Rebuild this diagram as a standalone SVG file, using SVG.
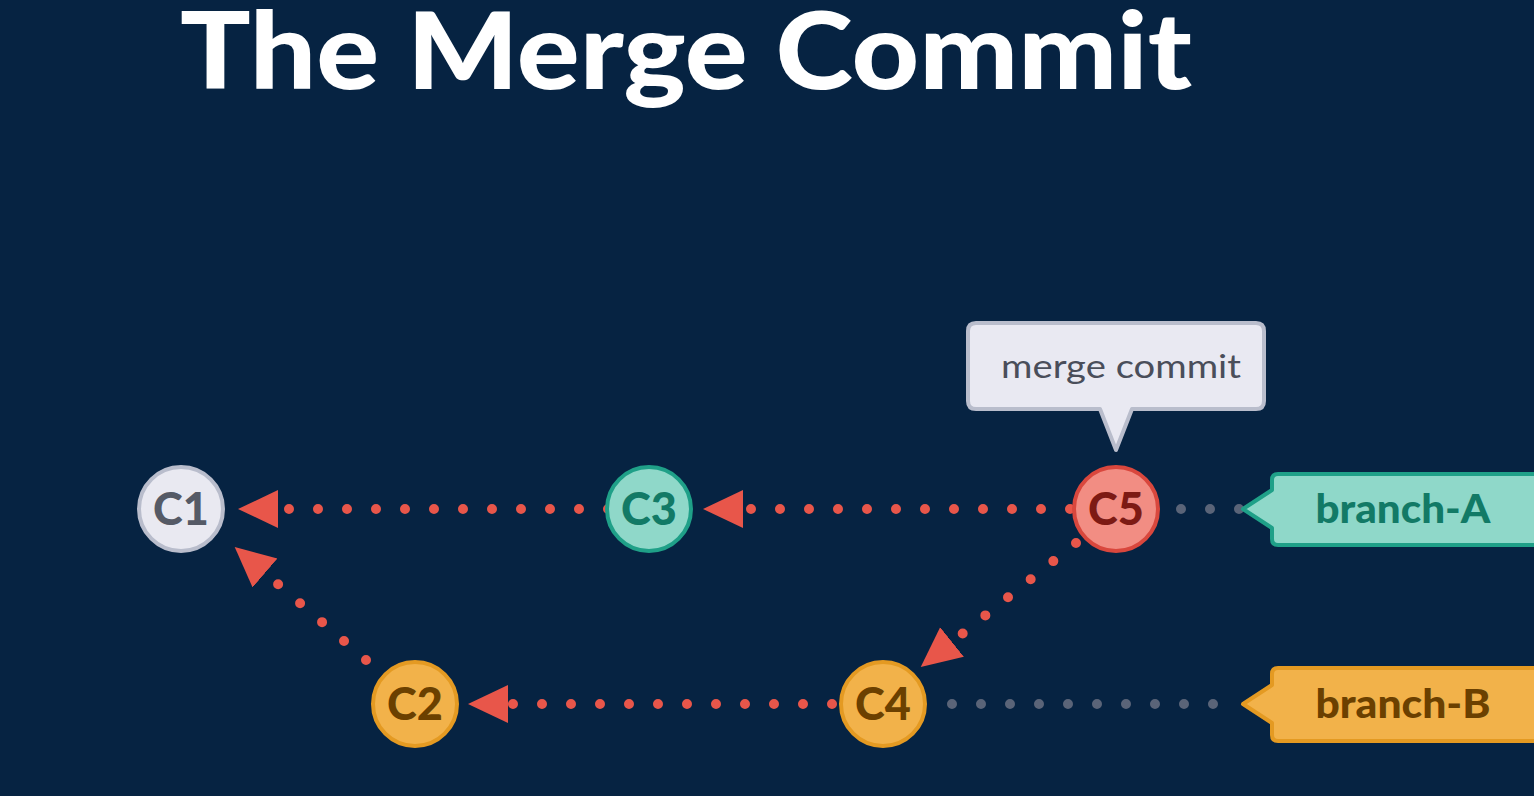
<svg xmlns="http://www.w3.org/2000/svg" width="1534" height="796" viewBox="0 0 1534 796">
<defs>
<style>
.title{font-family:Lato,"Open Sans","Liberation Sans",sans-serif;font-weight:900;font-size:106px;fill:#ffffff}
.ct{font-family:Lato,"Open Sans","Liberation Sans",sans-serif;font-weight:900;font-size:45px;text-anchor:middle}
.bt{font-family:Lato,"Open Sans","Liberation Sans",sans-serif;font-weight:900;font-size:40px;text-anchor:middle}
.mt{font-family:Lato,"Open Sans","Liberation Sans",sans-serif;font-weight:400;font-size:32px;fill:#4a4e5a}
.red{stroke:#e8564a;stroke-width:10;stroke-linecap:round;stroke-dasharray:0 29;fill:none}
.gray{stroke:#5a6478;stroke-width:10;stroke-linecap:round;stroke-dasharray:0 29;fill:none}
</style>
<marker id="ah" markerUnits="userSpaceOnUse" markerWidth="42" markerHeight="42" viewBox="0 -21 42 42" refX="0" refY="0" orient="auto">
<path d="M0,-19 L40,0 L0,19 z" fill="#e8564a"/>
</marker>
</defs>
<rect width="1534" height="796" fill="#062342"/>
<text class="title" x="180" y="89" textLength="1012" lengthAdjust="spacingAndGlyphs">The Merge Commit</text>
<g id="connectors">
<line class="red" x1="608" y1="509" x2="278" y2="509" marker-end="url(#ah)"/>
<line class="red" x1="1070" y1="509" x2="743" y2="509" marker-end="url(#ah)"/>
<line class="red" x1="832" y1="704" x2="508" y2="704" marker-end="url(#ah)"/>
<line class="red" x1="366" y1="660" x2="265" y2="573" marker-end="url(#ah)"/>
<line class="red" x1="1076" y1="543" x2="952" y2="642" marker-end="url(#ah)"/>
<line class="gray" x1="1181" y1="509" x2="1240" y2="509"/>
<line class="gray" x1="952" y1="704" x2="1218" y2="704"/>
</g>
<g id="C1">
<circle cx="181" cy="509" r="42" fill="#e9e9f1" stroke="#b9bdcc" stroke-width="4"/>
<text class="ct" x="181" y="525" fill="#555a66">C1</text>
</g>
<g id="C3">
<circle cx="649" cy="509" r="42" fill="#8fd8c9" stroke="#1fa088" stroke-width="4"/>
<text class="ct" x="649" y="525" fill="#127a66">C3</text>
</g>
<g id="C5">
<circle cx="1116" cy="509" r="42" fill="#f28d83" stroke="#d9473d" stroke-width="4"/>
<text class="ct" x="1116" y="525" fill="#7d1a14">C5</text>
</g>
<g id="C2">
<circle cx="415" cy="704" r="42" fill="#f2b24a" stroke="#e49a22" stroke-width="4"/>
<text class="ct" x="415" y="720" fill="#6b4000">C2</text>
</g>
<g id="C4">
<circle cx="883" cy="704" r="42" fill="#f2b24a" stroke="#e49a22" stroke-width="4"/>
<text class="ct" x="883" y="720" fill="#6b4000">C4</text>
</g>
<g id="merge-commit-callout">
<path d="M976,323 H1256 Q1264,323 1264,331 V401 Q1264,409 1256,409 H1132 L1116,450 L1100,409 H976 Q968,409 968,401 V331 Q968,323 976,323 Z" fill="#e9e9f2" stroke="#b9bdcc" stroke-width="4" stroke-linejoin="round"/>
<text class="mt" x="1001" y="378" textLength="240" lengthAdjust="spacingAndGlyphs">merge commit</text>
</g>
<g id="branch-A">
<path d="M1278,474 H1540 V545 H1278 Q1272,545 1272,539 V528 L1243,509 L1272,490 V480 Q1272,474 1278,474 Z" fill="#8fd8c9" stroke="#1fa088" stroke-width="4" stroke-linejoin="round"/>
<text class="bt" x="1403" y="523" fill="#127a66" textLength="175" lengthAdjust="spacingAndGlyphs">branch-A</text>
</g>
<g id="branch-B">
<path d="M1278,668 H1540 V741 H1278 Q1272,741 1272,735 V723 L1243,704 L1272,685 V674 Q1272,668 1278,668 Z" fill="#f2b24a" stroke="#e49a22" stroke-width="4" stroke-linejoin="round"/>
<text class="bt" x="1403" y="718" fill="#6b4000" textLength="175" lengthAdjust="spacingAndGlyphs">branch-B</text>
</g>
</svg>
